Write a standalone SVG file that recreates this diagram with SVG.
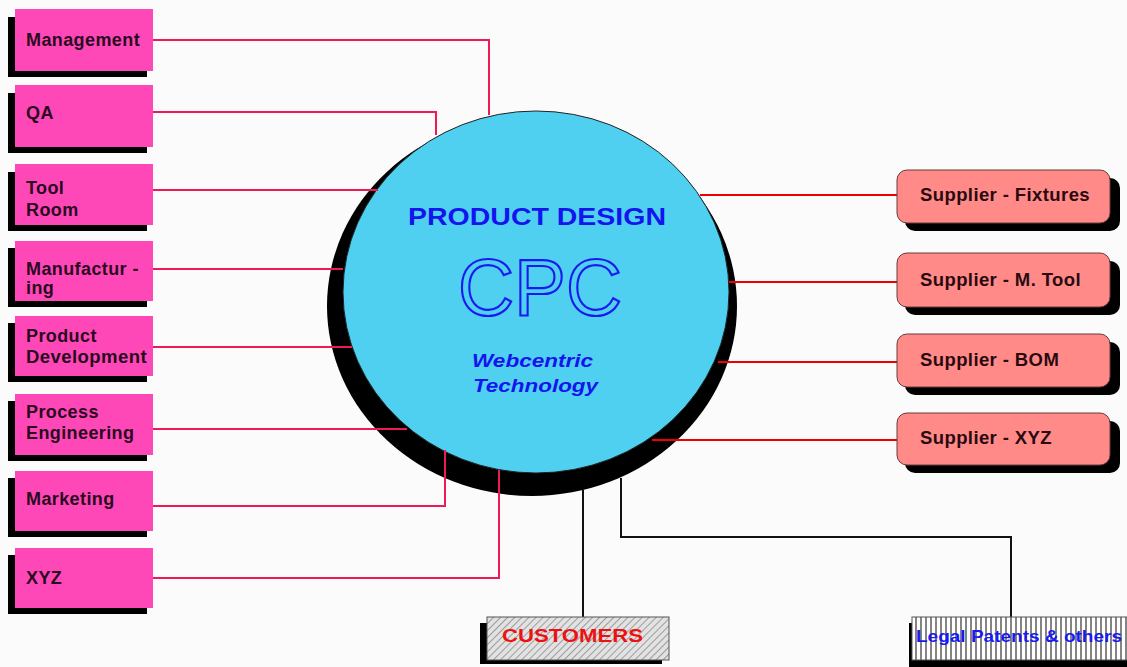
<svg xmlns="http://www.w3.org/2000/svg" width="1127" height="667" viewBox="0 0 1127 667">
  <defs>
    <pattern id="diag" width="5" height="5" patternUnits="userSpaceOnUse" patternTransform="rotate(45)">
      <rect width="5" height="5" fill="#e2e2e2"/>
      <line x1="0" y1="0" x2="0" y2="5" stroke="#8a8a8a" stroke-width="1.6"/>
    </pattern>
    <pattern id="vert" width="5" height="10" patternUnits="userSpaceOnUse">
      <rect width="5" height="10" fill="#ffffff"/>
      <line x1="1" y1="0" x2="1" y2="10" stroke="#333" stroke-width="1.2"/>
    </pattern>
    <style>
      .lb { fill: #ff48b8; }
      .sh { fill: #000; }
      .lt { font-family: "Liberation Sans", Arial, sans-serif; font-weight: bold; font-size: 18px; letter-spacing: 0.4px; fill: #2a0a1e; }
      .sb { fill: #ff8a88; stroke: #6a3a3a; stroke-width: 1; }
      .st { font-family: "Liberation Sans", Arial, sans-serif; font-weight: bold; font-size: 18.5px; letter-spacing: 0.4px; fill: #2a0a10; }
      .pk { fill: none; stroke: #ee1a55; stroke-width: 2; }
      .rd { fill: none; stroke: #ee0000; stroke-width: 2; }
      .bk { fill: none; stroke: #111; stroke-width: 2; }
    </style>
  </defs>
  <rect width="1127" height="667" fill="#fbfbfb"/>

  <!-- central circle -->
  <g id="center">
    <ellipse cx="532" cy="306" rx="205" ry="190" fill="#000"/>
    <ellipse cx="536" cy="292" rx="193" ry="181" fill="#4fd0f0" stroke="#222" stroke-width="1"/>
    <text x="537" y="225" text-anchor="middle" textLength="258" lengthAdjust="spacingAndGlyphs" font-family="Liberation Sans, Arial, sans-serif" font-weight="bold" font-size="24" fill="#1414ee">PRODUCT DESIGN</text>
    <text x="540" y="315" text-anchor="middle" textLength="164" lengthAdjust="spacingAndGlyphs" font-family="Liberation Sans, Arial, sans-serif" font-size="80" fill="none" stroke="#1a1aee" stroke-width="2.2">CPC</text>
    <text x="472" y="367" textLength="121" lengthAdjust="spacingAndGlyphs" font-family="Liberation Sans, Arial, sans-serif" font-weight="bold" font-style="italic" font-size="18" fill="#1414ee">Webcentric</text>
    <text x="473" y="392" textLength="125" lengthAdjust="spacingAndGlyphs" font-family="Liberation Sans, Arial, sans-serif" font-weight="bold" font-style="italic" font-size="18" fill="#1414ee">Technology</text>
  </g>

  <!-- connectors -->
  <g id="connectors">
    <polyline class="pk" points="153,40 489,40 489,115"/>
    <polyline class="pk" points="153,112 436,112 436,135"/>
    <polyline class="pk" points="153,190 378,190"/>
    <polyline class="pk" points="153,269 343,269"/>
    <polyline class="pk" points="153,347 352,347"/>
    <polyline class="pk" points="153,429 407,429"/>
    <polyline class="pk" points="153,506 445,506 445,450"/>
    <polyline class="pk" points="153,578 499,578 499,470"/>
    <line class="rd" x1="700" y1="195" x2="897" y2="195"/>
    <line class="rd" x1="729" y1="282" x2="897" y2="282"/>
    <line class="rd" x1="718" y1="362" x2="897" y2="362"/>
    <line class="rd" x1="652" y1="440" x2="897" y2="440"/>
    <polyline class="bk" points="583,490 583,618"/>
    <polyline class="bk" points="621,478 621,537 1011,537 1011,618"/>
  </g>

  <!-- left boxes -->
  <g id="management">
    <rect class="sh" x="8" y="17" width="139" height="60"/>
    <rect class="lb" x="15" y="9" width="138" height="62"/>
    <text class="lt" x="26" y="46">Management</text>
  </g>
  <g id="qa">
    <rect class="sh" x="8" y="93" width="139" height="60"/>
    <rect class="lb" x="15" y="85" width="138" height="62"/>
    <text class="lt" x="26" y="119">QA</text>
  </g>
  <g id="toolroom">
    <rect class="sh" x="8" y="172" width="139" height="59"/>
    <rect class="lb" x="15" y="164" width="138" height="61"/>
    <text class="lt" x="26" y="194">Tool</text>
    <text class="lt" x="26" y="216">Room</text>
  </g>
  <g id="manufacturing">
    <rect class="sh" x="8" y="248" width="139" height="59"/>
    <rect class="lb" x="15" y="241" width="138" height="60"/>
    <text class="lt" x="26" y="275">Manufactur -</text>
    <text class="lt" x="26" y="294">ing</text>
  </g>
  <g id="productdev">
    <rect class="sh" x="8" y="323" width="139" height="59"/>
    <rect class="lb" x="15" y="316" width="138" height="60"/>
    <text class="lt" x="26" y="342">Product</text>
    <text class="lt" x="26" y="363" textLength="121" lengthAdjust="spacingAndGlyphs">Development</text>
  </g>
  <g id="processeng">
    <rect class="sh" x="8" y="401" width="139" height="60"/>
    <rect class="lb" x="15" y="394" width="138" height="61"/>
    <text class="lt" x="26" y="418">Process</text>
    <text class="lt" x="26" y="439">Engineering</text>
  </g>
  <g id="marketing">
    <rect class="sh" x="8" y="478" width="139" height="59"/>
    <rect class="lb" x="15" y="471" width="138" height="60"/>
    <text class="lt" x="26" y="505">Marketing</text>
  </g>
  <g id="xyz">
    <rect class="sh" x="8" y="555" width="139" height="59"/>
    <rect class="lb" x="15" y="548" width="138" height="60"/>
    <text class="lt" x="26" y="584">XYZ</text>
  </g>

  <!-- supplier boxes -->
  <g id="sup-fixtures">
    <rect class="sh" x="905" y="178" width="215" height="53" rx="10"/>
    <rect class="sb" x="897" y="170" width="213" height="53" rx="10"/>
    <text class="st" x="920" y="201">Supplier - Fixtures</text>
  </g>
  <g id="sup-mtool">
    <rect class="sh" x="905" y="261" width="215" height="54" rx="10"/>
    <rect class="sb" x="897" y="253" width="213" height="54" rx="10"/>
    <text class="st" x="920" y="286">Supplier - M. Tool</text>
  </g>
  <g id="sup-bom">
    <rect class="sh" x="905" y="342" width="215" height="53" rx="10"/>
    <rect class="sb" x="897" y="334" width="213" height="53" rx="10"/>
    <text class="st" x="920" y="366">Supplier - BOM</text>
  </g>
  <g id="sup-xyz">
    <rect class="sh" x="905" y="421" width="215" height="52" rx="10"/>
    <rect class="sb" x="897" y="413" width="213" height="52" rx="10"/>
    <text class="st" x="920" y="444">Supplier - XYZ</text>
  </g>

  <!-- bottom boxes -->
  <g id="customers">
    <rect class="sh" x="480" y="623" width="182" height="41"/>
    <rect x="487" y="617" width="182" height="43" fill="url(#diag)" stroke="#555" stroke-width="1"/>
    <text x="502" y="642" textLength="141" lengthAdjust="spacingAndGlyphs" font-family="Liberation Sans, Arial, sans-serif" font-weight="bold" font-size="18" fill="#ee1111">CUSTOMERS</text>
  </g>
  <g id="legal">
    <rect class="sh" x="909" y="623" width="230" height="44"/>
    <rect x="912" y="617" width="230" height="43" fill="url(#vert)" stroke="#555" stroke-width="1"/>
    <text x="916" y="642" textLength="206" lengthAdjust="spacingAndGlyphs" font-family="Liberation Sans, Arial, sans-serif" font-weight="bold" font-size="17" fill="#1a1aee">Legal Patents &amp; others</text>
  </g>
</svg>
